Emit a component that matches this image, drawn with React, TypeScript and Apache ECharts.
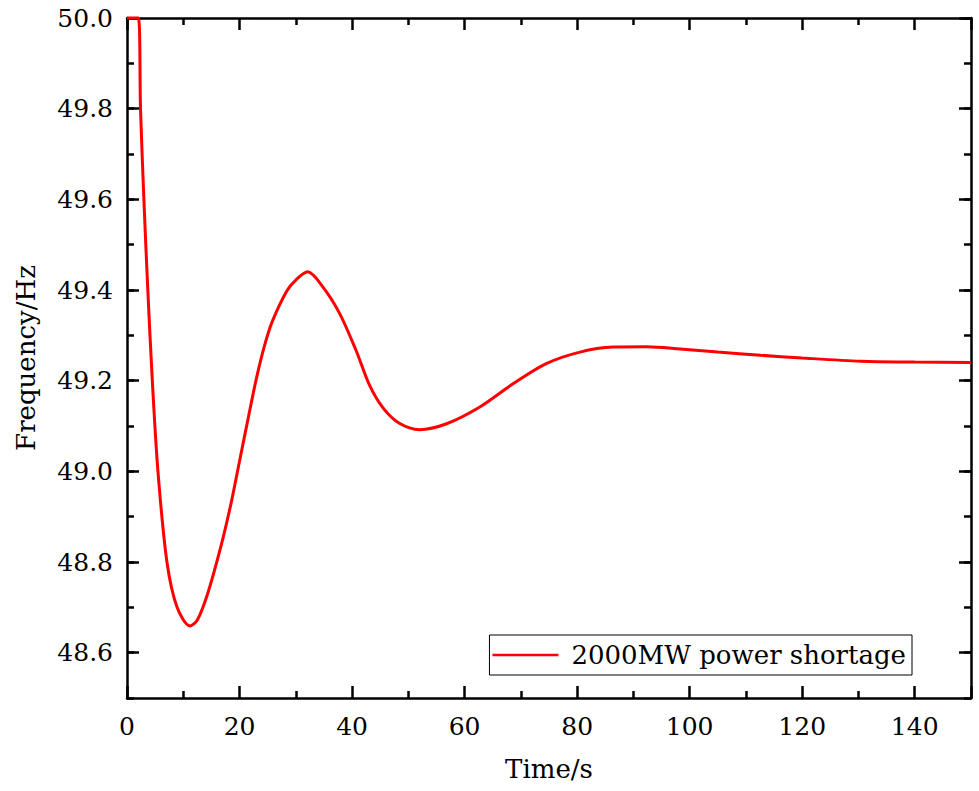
import React, { useEffect, useRef } from "react";
import * as echarts from "echarts";

const timeS = [0, 2, 2.4, 3.0, 3.7, 4.5, 5.5, 7.1, 8.9, 11.2, 12.5, 14.3, 16.7, 18.5, 20.2, 21.5, 23.0, 24.5, 25.9, 28.4, 30, 32.1, 34.8, 37.8, 40.7, 43.1, 45.5, 48.4, 52, 56.8, 62.7, 68.6, 74.6, 80.5, 86.4, 92.4, 98.3, 105, 112.6, 120, 130.4, 140, 150];
const freqHz = [50.0, 50.0, 49.8, 49.6, 49.4, 49.2, 49.0, 48.8, 48.7, 48.659, 48.672, 48.729, 48.835, 48.93, 49.035, 49.115, 49.205, 49.28, 49.333, 49.398, 49.422, 49.44, 49.407, 49.348, 49.267, 49.19, 49.14, 49.106, 49.092, 49.105, 49.142, 49.193, 49.238, 49.263, 49.274, 49.275, 49.27, 49.263, 49.256, 49.25, 49.243, 49.241, 49.24];
const yTickLabels = [48.6, 48.8, 49.0, 49.2, 49.4, 49.6, 49.8, 50.0];
const seriesName = "2000MW power shortage";
const xName = "Time/s";
const yName = "Frequency/Hz";

const FONT = "DejaVu Serif";

export default function App() {
  const ref = useRef<HTMLDivElement>(null);
  useEffect(() => {
    if (!ref.current) return;
    const chart = echarts.init(ref.current, undefined, { renderer: "svg" });
    const data = timeS.map((t, i) => [t, freqHz[i]]);
    const black = { color: "#000", width: 2.5 };
    const axisLine = { show: true, lineStyle: black };
    const majorTick = { show: true, inside: true, length: 12, lineStyle: black };
    const minorTick = { show: true, splitNumber: 2, length: 7, lineStyle: black };
    const xBase = { type: "value", min: 0, max: 150, interval: 20, splitLine: { show: false } };
    const yBase = { type: "value", min: 48.5, max: 50.0, interval: 0.1, splitLine: { show: false } };
    const yShortTicks = { show: true, inside: true, length: 7, lineStyle: black };
    const yLongTicks = { show: true, inside: true, length: 12, lineStyle: black, customValues: yTickLabels };
    chart.setOption({
      animation: false,
      backgroundColor: "#fff",
      grid: { left: 127, right: 8, top: 18, bottom: 93 },
      xAxis: [
        {
          ...xBase,
          position: "bottom",
          name: xName,
          nameLocation: "middle",
          nameGap: 58,
          nameTextStyle: { fontFamily: FONT, fontSize: 26, color: "#000" },
          axisLine,
          axisTick: majorTick,
          minorTick,
          axisLabel: { fontFamily: FONT, fontSize: 25, color: "#000", margin: 16, showMaxLabel: false },
        },
        {
          ...xBase,
          position: "top",
          axisLine,
          axisTick: majorTick,
          minorTick,
          axisLabel: { show: false },
        },
      ],
      yAxis: [
        {
          ...yBase,
          position: "left",
          name: yName,
          nameLocation: "middle",
          nameGap: 88,
          nameTextStyle: { fontFamily: FONT, fontSize: 26, color: "#000" },
          axisLine,
          axisTick: yShortTicks,
          axisLabel: {
            fontFamily: FONT,
            fontSize: 25,
            color: "#000",
            margin: 14,
            customValues: yTickLabels,
            formatter: (v: number) => v.toFixed(1),
          },
        },
        {
          ...yBase,
          position: "left",
          axisLine: { show: false },
          axisTick: yLongTicks,
          axisLabel: { show: false },
        },
        {
          ...yBase,
          position: "right",
          axisLine,
          axisTick: yShortTicks,
          axisLabel: { show: false },
        },
        {
          ...yBase,
          position: "right",
          axisLine: { show: false },
          axisTick: yLongTicks,
          axisLabel: { show: false },
        },
      ],
      legend: {
        show: true,
        right: 67,
        top: 635,
        orient: "horizontal",
        borderColor: "#000",
        borderWidth: 1,
        borderRadius: 0,
        padding: [7, 6, 7, 3],
        itemWidth: 66,
        itemHeight: 14,
        textStyle: { fontFamily: FONT, fontSize: 26, color: "#000", padding: [0, 0, 0, 8] },
        data: [{ name: seriesName, icon: "path://M0,6 L66,6 L66,8.5 L0,8.5 Z" }],
      },
      series: [
        {
          name: seriesName,
          type: "line",
          data,
          xAxisIndex: 0,
          yAxisIndex: 0,
          showSymbol: false,
          symbol: "none",
          smooth: 0.3,
          clip: false,
          lineStyle: { color: "#ff0000", width: 3 },
          itemStyle: { color: "#ff0000" },
          z: 5,
        },
      ],
    });
    return () => chart.dispose();
  }, []);
  return (
    <div
      ref={ref}
      style={{ position: "fixed", left: 0, top: 0, width: 979, height: 791, background: "#fff" }}
    />
  );
}
